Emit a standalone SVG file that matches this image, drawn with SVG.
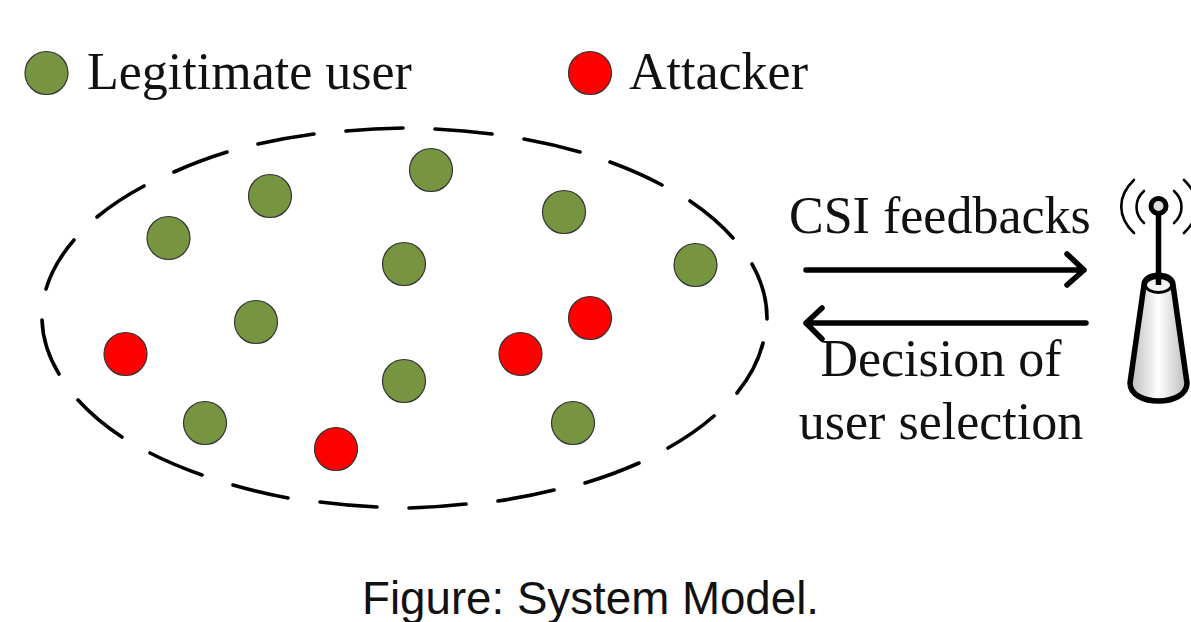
<svg xmlns="http://www.w3.org/2000/svg" width="1191" height="622" viewBox="0 0 1191 622">
<style>
.s{font-family:"Liberation Serif","Times New Roman",serif;font-size:52px;fill:#111}
.c{font-family:"Liberation Sans",Arial,sans-serif;font-size:45.700px;fill:#111}
.g{fill:#779440;stroke:#333;stroke-width:1.2}
.r{fill:#ff0000;stroke:#333;stroke-width:1.2}
.a{fill:none;stroke:#000;stroke-width:5.500;stroke-linecap:round;stroke-linejoin:round}
.w{fill:none;stroke:#000;stroke-width:2.600;stroke-linecap:round}
</style>
<defs>
<linearGradient id="m" x1="0" x2="1" y1="0" y2="0"><stop offset="0" stop-color="#bbb"/><stop offset=".5" stop-color="#fff"/><stop offset="1" stop-color="#bbb"/></linearGradient>
</defs>
<rect width="1191" height="622" fill="#fff"/>
<g id="legend-user"><circle class="g" cx="46.500" cy="73" r="21.500"/><text class="s" x="87" y="89">Legitimate user</text></g>
<g id="legend-attacker"><circle class="r" cx="590" cy="73" r="21.500"/><text class="s" x="629" y="89">Attacker</text></g>
<g id="region"><path fill="none" stroke="#000" stroke-width="3.600" stroke-linecap="round" d="M46 289A363 190 0 0 1 74 240M97 217A363 190 0 0 1 144 186M174 172A363 190 0 0 1 227 152M258 144A363 190 0 0 1 314 134M346 131A363 190 0 0 1 403 128M435 129A363 190 0 0 1 492 134M524 139A363 190 0 0 1 580 152M610 162A363 190 0 0 1 662 185M690 201A363 190 0 0 1 733 238M752 264A363 190 0 0 1 767 319M763 343A363 190 0 0 1 737 393M714 416A363 190 0 0 1 668 448M639 463A363 190 0 0 1 585 483M554 490A363 190 0 0 1 498 501M466 504A363 190 0 0 1 409 508M377 507A363 190 0 0 1 320 502M288 498A363 190 0 0 1 233 485M202 475A363 190 0 0 1 150 453M122 437A363 190 0 0 1 78 400M59 374A363 190 0 0 1 42 320"/></g>
<g id="users">
<circle class="g" cx="168.500" cy="238" r="21.500"/><circle class="g" cx="270" cy="196" r="21.500"/><circle class="g" cx="431" cy="170" r="21.500"/><circle class="g" cx="564" cy="212" r="21.500"/><circle class="g" cx="695.500" cy="265" r="21.500"/><circle class="g" cx="404" cy="264" r="21.500"/><circle class="g" cx="256" cy="322" r="21.500"/><circle class="g" cx="404" cy="381" r="21.500"/><circle class="g" cx="205" cy="423" r="21.500"/><circle class="g" cx="573" cy="423" r="21.500"/>
</g>
<g id="attackers">
<circle class="r" cx="125.500" cy="354" r="21.500"/><circle class="r" cx="336" cy="449" r="21.500"/><circle class="r" cx="520.500" cy="354" r="21.500"/><circle class="r" cx="590" cy="318" r="21.500"/>
</g>
<g id="connectors">
<path class="a" d="M806 270H1084M1067 254L1084 270L1067 285"/>
<path class="a" d="M1086 323H806M822 308L806 323L822 339"/>
</g>
<text class="s" x="789" y="233">CSI feedbacks</text>
<text class="s" x="941" y="376" text-anchor="middle">Decision of</text>
<text class="s" x="941" y="439" text-anchor="middle">user selection</text>
<g id="antenna">
<path d="M1144 285C1144 272 1173 272 1173 285L1187 383C1187 407 1130 407 1130 383Z" fill="url(#m)" stroke="#000" stroke-width="5.500" stroke-linejoin="round"/>
<ellipse cx="1158.500" cy="285" rx="13" ry="7.500" fill="#f5f5f5" stroke="#000" stroke-width="2.800"/>
<path d="M1158.500 212V285" stroke="#000" stroke-width="5.500" fill="none"/>
<circle cx="1158.500" cy="206" r="7.500" fill="#ddd" stroke="#000" stroke-width="5"/>
<path class="w" d="M1144 191C1134 200 1134 214 1144 223"/><path class="w" d="M1134 180C1117 196 1117 217 1134 233"/>
<path class="w" d="M1174 191C1184 200 1184 214 1174 223"/><path class="w" d="M1184 180C1201 196 1201 217 1184 233"/>
</g>
<text class="c" x="362" y="614">Figure: System Model.</text>
</svg>
